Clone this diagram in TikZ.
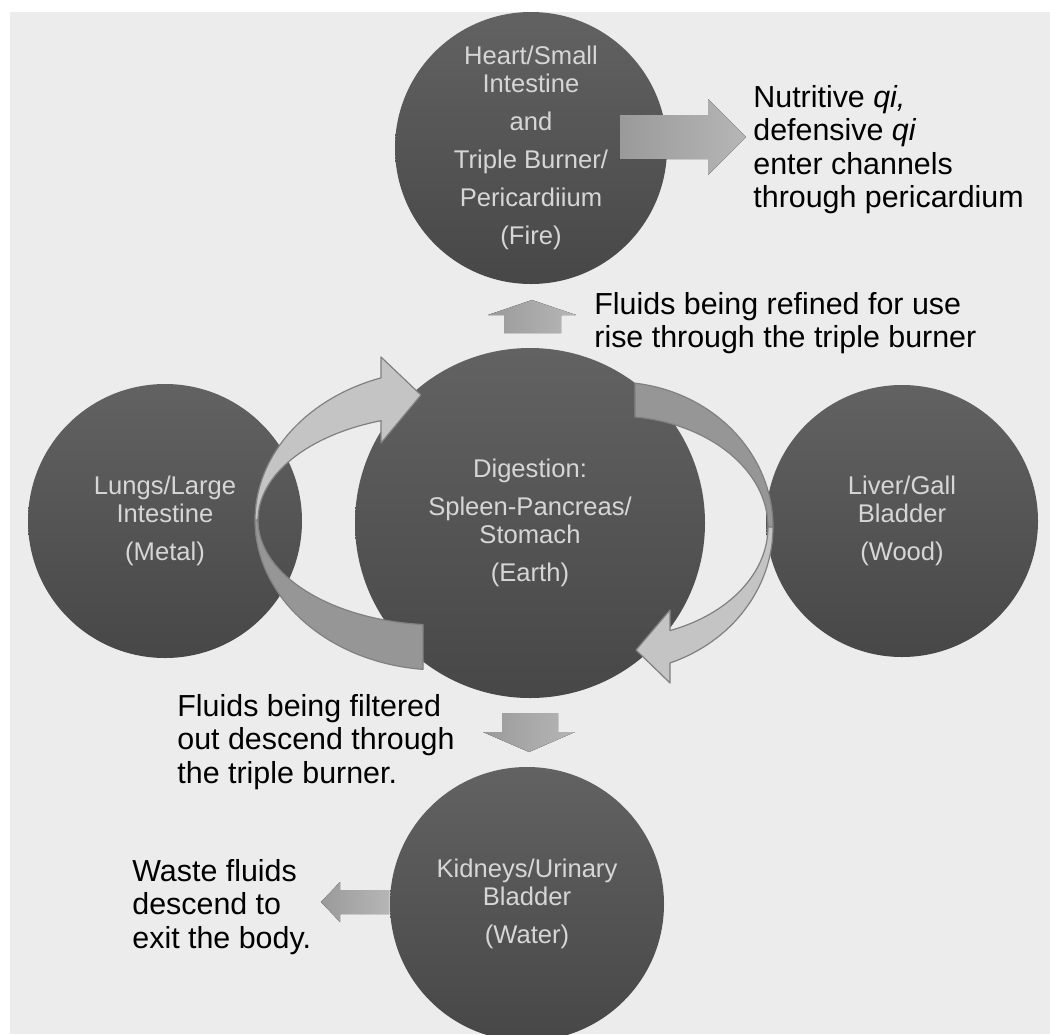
\documentclass[tikz,border=0pt]{standalone}
\usepackage{fontspec}
\setmainfont{Liberation Sans}
\usepackage{tikz}
\usetikzlibrary{positioning}

\definecolor{bggray}{HTML}{ECECEC}
\definecolor{orgtop}{HTML}{626262}
\definecolor{orgbot}{HTML}{474747}
\definecolor{orgtext}{HTML}{D6D6D6}
\definecolor{ringlight}{HTML}{C4C4C4}
\definecolor{ringdark}{HTML}{969696}
\definecolor{ringline}{HTML}{808080}
\definecolor{arrdark}{HTML}{9A9A9A}
\definecolor{arrlight}{HTML}{B6B6B6}

\begin{document}
\begin{tikzpicture}[
  x=0.5pt, y=0.5pt,
  organ/.style={circle, inner sep=0pt, top color=orgtop, bottom color=orgbot, text=orgtext, align=center, font=\fontsize{12.8}{14}\selectfont},
  note/.style={inner sep=0pt, align=left, anchor=north west, text=black, font=\fontsize{15.2}{16.75}\selectfont},
  ribbonlight/.style={fill=ringlight, draw=ringline, line width=0.6pt, line join=round},
  ribbondark/.style={fill=ringdark, draw=ringline, line width=0.6pt, line join=round},
  flowarrow/.style={left color=arrdark, right color=arrlight, draw=none}
]
\useasboundingbox (0,0) rectangle (1050,-1034);
\clip (0,0) rectangle (1050,-1034);
\fill[white] (0,0) rectangle (1050,-1034);
\fill[bggray] (10,-12) rectangle (1050,-1034);

% Organ circles
\node[organ, minimum size=136pt] (fire) at (531,-148) {Heart/Small\\Intestine\\[5pt]and\\[5pt]Triple Burner/\\[5pt]Pericardiium\\[5pt](Fire)};
\node[organ, minimum size=175pt] (earth) at (530,-523) {Digestion:\\[5pt]Spleen-Pancreas/\\Stomach\\[5pt](Earth)};
\node[organ, minimum size=137pt] (metal) at (165,-521) {Lungs/Large\\Intestine\\[5pt](Metal)};
\node[organ, minimum size=136pt] (wood) at (902,-521) {Liver/Gall\\Bladder\\[5pt](Wood)};
\node[organ, minimum size=137pt] (water) at (527,-904) {Kidneys/Urinary\\Bladder\\[5pt](Water)};

% Left circular arrow (metal side)
\begin{scope}[shift={(440,-520)}]
  \draw[ribbondark] (180:185 and 150) arc[start angle=180, end angle=264.73, x radius=185, y radius=150]
    -- (264.64:182 and 105) arc[start angle=264.64, end angle=180, x radius=182, y radius=105] -- cycle;
  \draw[ribbonlight] (180:185 and 150) arc[start angle=180, end angle=108.6, x radius=185, y radius=150]
    -- (-59,163) -- (-19,125) -- (-59,77)
    -- (108.9:182 and 105) arc[start angle=108.9, end angle=180, x radius=182, y radius=105] -- cycle;
\end{scope}

% Right circular arrow (wood side)
\begin{scope}[shift={(615,-527)}]
  \draw[ribbondark] (82.73:158 and 145) arc[start angle=82.73, end angle=0, x radius=158, y radius=145]
    -- (0:153 and 111) arc[start angle=0, end angle=82.49, x radius=153, y radius=111] -- cycle;
  \draw[ribbonlight] (0:158 and 145) arc[start angle=0, end angle=-69.63, x radius=158, y radius=145]
    -- (55,-156) -- (21,-123) -- (55,-83)
    -- (-68.93:153 and 111) arc[start angle=-68.93, end angle=0, x radius=153, y radius=111] -- cycle;
\end{scope}

% Block arrows
\fill[flowarrow] (620,-115) -- (708,-115) -- (708,-99) -- (746,-137) -- (708,-175) -- (708,-159) -- (620,-159) -- cycle;
\fill[flowarrow] (504,-333) -- (504,-315) -- (488,-315) -- (532,-300) -- (576,-315) -- (561,-315) -- (561,-333) -- cycle;
\fill[flowarrow] (502,-713) -- (502,-732) -- (483,-732) -- (529,-752) -- (575,-732) -- (558,-732) -- (558,-713) -- cycle;
\fill[flowarrow] (389,-890) -- (340,-890) -- (340,-882) -- (321,-902) -- (340,-922) -- (340,-914) -- (389,-914) -- cycle;

% Notes
\node[note] (qinote) at (753,-85) {Nutritive \textit{qi,}\\defensive \textit{qi}\\enter channels\\through pericardium};
\node[note] (risenote) at (594,-292) {Fluids being refined for use\\rise through the triple burner};
\node[note] (filternote) at (177,-694) {Fluids being filtered\\out descend through\\the triple burner.};
\node[note] (wastenote) at (132,-859) {Waste fluids\\descend to\\exit the body.};
\end{tikzpicture}
\end{document}
